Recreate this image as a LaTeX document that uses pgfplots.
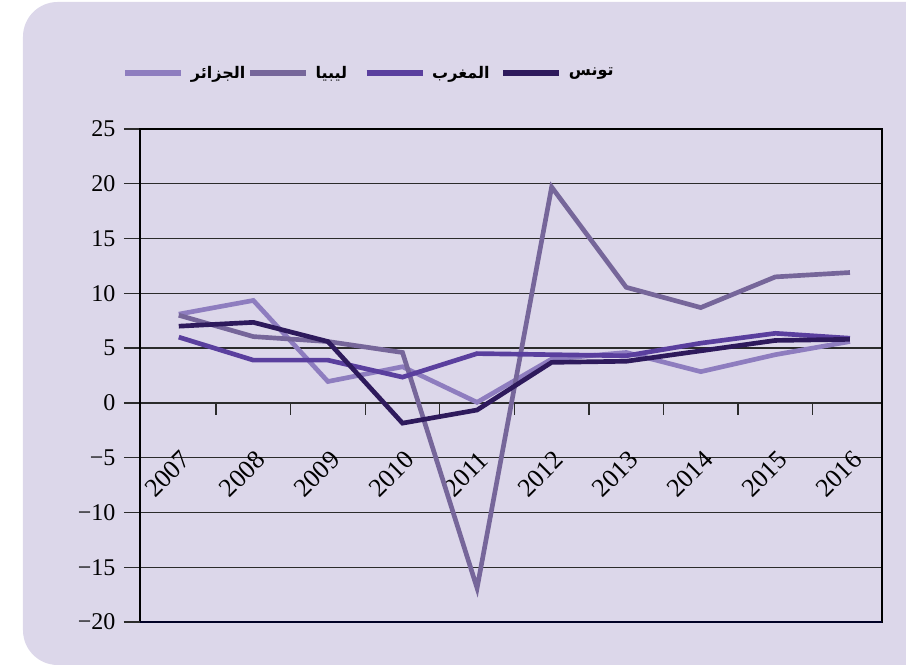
\documentclass[border=0pt]{standalone}
\usepackage{fontspec}
\setmainfont{Liberation Serif}
\newfontfamily\arabicfont[Script=Arabic]{DejaVu Sans}
\TeXXeTstate=1
\usepackage{pgfplots}
\pgfplotsset{compat=1.18}
\usetikzlibrary{calc,backgrounds}

\definecolor{panel}{HTML}{DCD7EA}
\definecolor{tunis}{HTML}{2E1A5C}
\definecolor{maroc}{HTML}{5A3F9E}
\definecolor{libya}{HTML}{76669A}
\definecolor{alger}{HTML}{8E7DBF}
\definecolor{gridc}{HTML}{2B2B2B}

\newcommand{\ar}[1]{\arabicfont\bfseries\beginR #1\endR}

\begin{document}
\begin{tikzpicture}
\begin{axis}[
  scale only axis, width=556.5pt, height=369.75pt,
  xmin=-0.52, xmax=9.43, ymin=-20, ymax=25,
  ytick={-20,-15,...,25},
  yticklabels={−20,−15,−10,−5,0,5,10,15,20,25},
  ytick pos=left, tick align=outside, major tick length=12pt,
  ymajorgrids, grid style={gridc, line width=1pt},
  ytick style={gridc, line width=1pt},
  xtick={0,...,9},
  xticklabels={2007,2008,2009,2010,2011,2012,2013,2014,2015,2016},
  xtick style={draw=none},
  xticklabel style={font=\fontsize{19.5}{21}\selectfont, anchor=center,
    xshift=-8.25pt, yshift=123pt, rotate=45},
  axis line style={black, line width=0.9pt},
  yticklabel style={font=\fontsize{18}{20}\selectfont, xshift=-3pt},
  extra y ticks={-20}, extra y tick labels={},
  extra y tick style={grid style={line width=1.8pt, color=black!85!blue}},
  legend columns=4,
  legend style={at={(-0.0243,1.1136)}, anchor=west, draw=none, fill=none,
    inner sep=0pt, nodes={inner sep=0pt}, font=\fontsize{12}{14}\selectfont,
    /tikz/every odd column/.style={column sep=5pt},
    /tikz/every even column/.style={column sep=0pt}},
  legend image code/.code={\draw[#1, line width=4.5pt] (0pt,0pt) -- (42pt,0pt);},
  every axis plot/.append style={line width=3.5pt},
]
% category tick marks hanging from the zero line
\addplot[gridc, line width=1pt, unbounded coords=jump, forget plot]
  coordinates {(0.5,0) (0.5,-1.1) (0.5,nan) (1.5,0) (1.5,-1.1) (1.5,nan)
               (2.5,0) (2.5,-1.1) (2.5,nan) (3.5,0) (3.5,-1.1) (3.5,nan)
               (4.5,0) (4.5,-1.1) (4.5,nan) (5.5,0) (5.5,-1.1) (5.5,nan)
               (6.5,0) (6.5,-1.1) (6.5,nan) (7.5,0) (7.5,-1.1) (7.5,nan)
               (8.5,0) (8.5,-1.1)};
% الجزائر
\addplot[alger] coordinates {(0,8.1) (1,9.35) (2,1.95) (3,3.3) (4,0.05) (5,4.0) (6,4.6) (7,2.85) (8,4.4) (9,5.6)};
\addlegendentry{\makebox[42pt][l]{\ar{الجزائر}}}
% ليبيا
\addplot[libya] coordinates {(0,8.0) (1,6.05) (2,5.6) (3,4.6) (4,-16.9) (5,19.7) (6,10.55) (7,8.7) (8,11.5) (9,11.9)};
\addlegendentry{\makebox[36pt][l]{\ar{ليبيا}}}
% المغرب
\addplot[maroc] coordinates {(0,6.0) (1,3.9) (2,3.9) (3,2.35) (4,4.5) (5,4.4) (6,4.3) (7,5.45) (8,6.35) (9,5.9)};
\addlegendentry{\makebox[51pt][l]{\ar{المغرب}}}
% تونس
\addplot[tunis] coordinates {(0,7.0) (1,7.35) (2,5.6) (3,-1.85) (4,-0.65) (5,3.7) (6,3.8) (7,4.75) (8,5.7) (9,5.8)};
\addlegendentry{\ar{تونس}}
\coordinate (SW) at (rel axis cs:0,0);
\end{axis}

% fixed page frame and the rounded lavender panel behind everything
\pgfresetboundingbox
\path[use as bounding box] ($(SW)+(-105pt,-33pt)$) rectangle ++(679.5pt,499.5pt);
\begin{scope}[on background layer]
  \clip ($(SW)+(-105pt,-33pt)$) rectangle ++(679.5pt,499.5pt);
  \fill[panel, rounded corners=26pt] ($(SW)+(-87.75pt,-32.25pt)$) rectangle ++(695.25pt,497.25pt);
\end{scope}
\end{tikzpicture}
\end{document}
